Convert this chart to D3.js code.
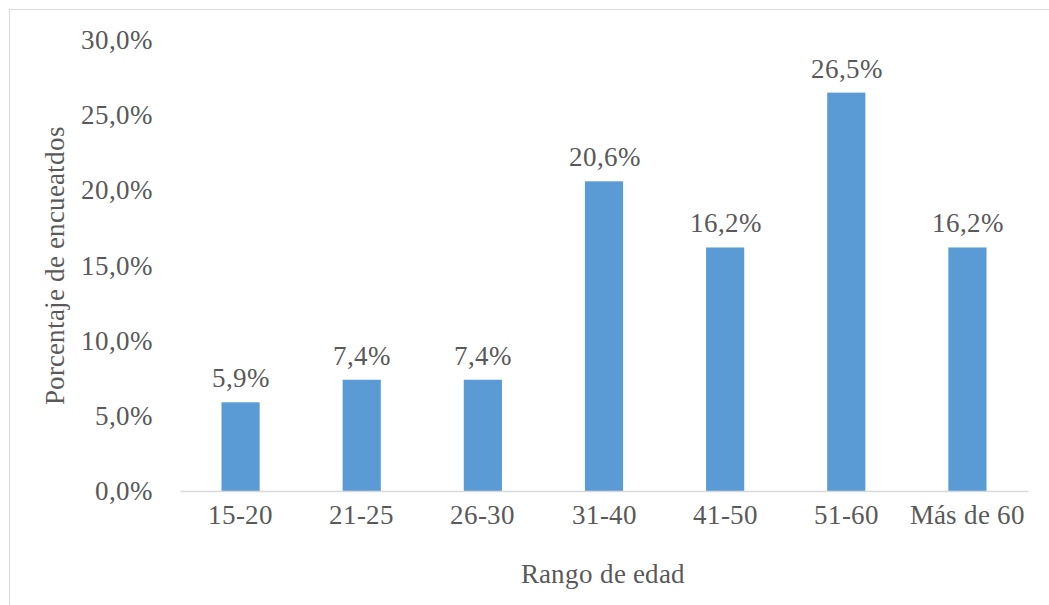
<!DOCTYPE html>
<html>
<head>
<meta charset="utf-8">
<script src="https://cdn.jsdelivr.net/npm/d3@7"></script>
<style>
  @font-face { font-family: "ChartSerif"; src: local("Liberation Serif"), local("LiberationSerif"); }
  html, body, svg, text { font-family: "ChartSerif", "Liberation Serif", serif; }
</style>
</head>
<body style="margin:0">
<svg id="fig" width="1049" height="605"></svg>
<script>
// Data
const categories = ["15-20", "21-25", "26-30", "31-40", "41-50", "51-60", "Más de 60"];
const values = [5.9, 7.4, 7.4, 20.6, 16.2, 26.5, 16.2];
const yTicks = [0, 5, 10, 15, 20, 25, 30];

const W = 1049, H = 605;
const margin = { top: 40, right: 21, bottom: 114, left: 180 };
const width = W - margin.left - margin.right;
const height = H - margin.top - margin.bottom;

const svg = d3.select("#fig");

// outer border
svg.append("rect")
  .attr("x", 9.5).attr("y", 9.5)
  .attr("width", W).attr("height", H)
  .attr("fill", "none").attr("stroke", "#d9d9d9").attr("stroke-width", 1);

const g = svg.append("g")
  .attr("transform", "translate(" + margin.left + "," + margin.top + ")");

const x = d3.scaleBand().domain(categories).range([0, width]).paddingInner(0.685).paddingOuter(0.3425);
const y = d3.scaleLinear().domain([0, 30]).range([height, 0]);

const fmt = function (v) { return v.toFixed(1).replace(".", ",") + "%"; };

function styleText(s) {
  s.attr("font-family", "Liberation Serif")
    .attr("font-size", 27)
    .attr("fill", "#595959");
}

// y axis (labels only)
const yAxis = d3.axisLeft(y).tickValues(yTicks).tickSize(0).tickPadding(28).tickFormat(fmt);
const yg = g.append("g").call(yAxis).attr("font-family", null).attr("font-size", null);
yg.select(".domain").remove();
yg.selectAll("text").call(styleText);

// bars
g.selectAll(".bar")
  .data(values)
  .enter()
  .append("rect")
  .attr("class", "bar")
  .attr("x", function (d, i) { return x(categories[i]); })
  .attr("y", function (d) { return y(d); })
  .attr("width", x.bandwidth())
  .attr("height", function (d) { return height - y(d); })
  .attr("fill", "#5b9bd5");

// value labels
g.selectAll(".lbl")
  .data(values)
  .enter()
  .append("text")
  .attr("class", "lbl")
  .attr("x", function (d, i) { return x(categories[i]) + x.bandwidth() / 2; })
  .attr("y", function (d) { return y(d) - 15; })
  .attr("text-anchor", "middle")
  .text(fmt)
  .call(styleText);

// x axis
const xAxis = d3.axisBottom(x).tickSize(0).tickPadding(14);
const xg = g.append("g").attr("transform", "translate(0," + height + ")").call(xAxis)
  .attr("font-family", null).attr("font-size", null);
xg.select(".domain").attr("stroke", "#d9d9d9").attr("stroke-width", 1.5);
xg.selectAll("text").call(styleText);

// axis titles
svg.append("text")
  .attr("x", margin.left + width / 2 - 1)
  .attr("y", 583)
  .attr("text-anchor", "middle")
  .text("Rango de edad")
  .call(styleText);

svg.append("text")
  .attr("transform", "translate(64," + (margin.top + height / 2) + ") rotate(-90)")
  .attr("text-anchor", "middle")
  .text("Porcentaje de encueatdos")
  .call(styleText);
</script>
</body>
</html>
